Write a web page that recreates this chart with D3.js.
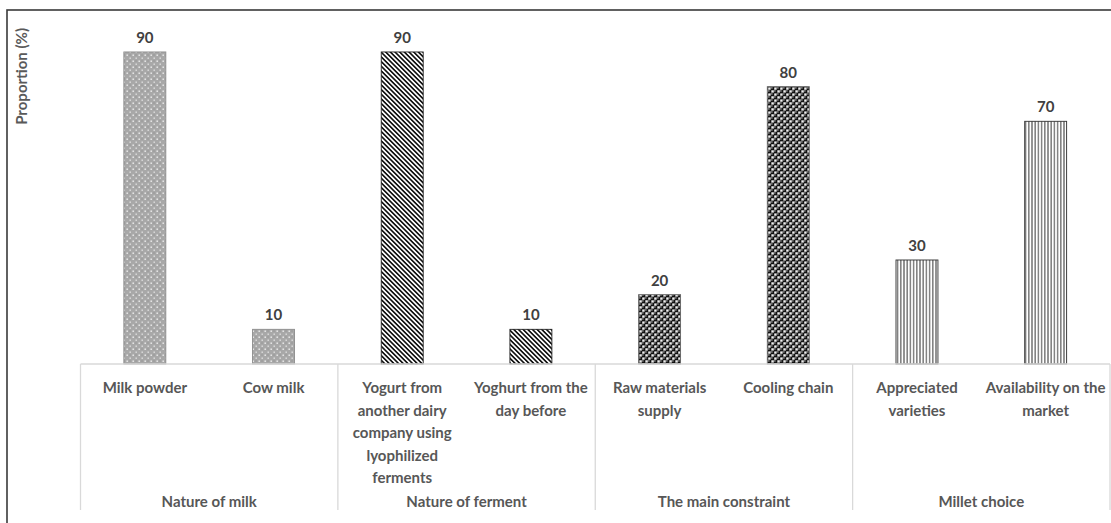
<!DOCTYPE html>
<html><head><meta charset="utf-8">
<script src="https://cdn.jsdelivr.net/npm/d3@7"></script>
<style>html,body{margin:0;padding:0;background:#fff;overflow:hidden}</style>
</head><body><svg id="c" width="1111" height="523"></svg>
<script>
// ---- data ----
const categories = [
  "Milk powder",
  "Cow milk",
  "Yogurt from\nanother dairy\ncompany using\nlyophilized\nferments",
  "Yoghurt from the\nday before",
  "Raw materials\nsupply",
  "Cooling chain",
  "Appreciated\nvarieties",
  "Availability on the\nmarket"
];
const groups = ["Nature of milk", "Nature of ferment", "The main constraint", "Millet choice"];
const groupOf = [0, 0, 1, 1, 2, 2, 3, 3];
const values = [90, 10, 90, 10, 20, 80, 30, 70];
const yTitle = "Proportion (%)";

// ---- layout ----
const W = 1111, H = 523;
const font = "Lato, 'Open Sans', sans-serif";
const svg = d3.select("#c");
const x0 = 80.5, x1 = 1110;
const x = d3.scaleBand().domain(d3.range(categories.length)).range([x0, x1]).padding(0);
const gx = d3.scaleBand().domain(d3.range(groups.length)).range([x0, x1]).padding(0);
const y = d3.scaleLinear().domain([0, 100]).range([364, 17.3]);
const barW = x.bandwidth() * 0.326;

// ---- patterns ----
const defs = svg.append("defs");
// gray dotted
let p = defs.append("pattern").attr("id", "pDots").attr("patternUnits", "userSpaceOnUse")
  .attr("width", 6).attr("height", 6);
p.append("rect").attr("width", 6).attr("height", 6).attr("fill", "#a8a8a8");
p.append("rect").attr("x", 0.5).attr("y", 0.5).attr("width", 1.4).attr("height", 1.4).attr("fill", "#f2f2f2");
p.append("rect").attr("x", 3.5).attr("y", 3.5).attr("width", 1.4).attr("height", 1.4).attr("fill", "#e0e0e0");
p.append("rect").attr("x", 3.5).attr("y", 0.5).attr("width", 1).attr("height", 1).attr("fill", "#888");
// diagonal stripes "\"
p = defs.append("pattern").attr("id", "pDiag").attr("patternUnits", "userSpaceOnUse")
  .attr("width", 3.3).attr("height", 10).attr("patternTransform", "rotate(-45)");
p.append("rect").attr("width", 3.3).attr("height", 10).attr("fill", "#fff");
p.append("line").attr("x1", 1.65).attr("x2", 1.65).attr("y1", 0).attr("y2", 10)
  .attr("stroke", "#111").attr("stroke-width", 1.7);
// sphere pattern
p = defs.append("pattern").attr("id", "pSphere").attr("patternUnits", "userSpaceOnUse")
  .attr("width", 6).attr("height", 6);
p.append("rect").attr("width", 6).attr("height", 6).attr("fill", "#8f8f8f");
[[1.5, 1.5], [4.5, 4.5]].forEach(([cx, cy]) => {
  p.append("circle").attr("cx", cx).attr("cy", cy).attr("r", 2).attr("fill", "#111");
  p.append("circle").attr("cx", cx - 0.6).attr("cy", cy - 0.6).attr("r", 0.6).attr("fill", "#fff");
});
[[4.5, 1.5], [1.5, 4.5]].forEach(([cx, cy]) => {
  p.append("circle").attr("cx", cx).attr("cy", cy).attr("r", 1.1).attr("fill", "#eee");
});
// vertical lines
p = defs.append("pattern").attr("id", "pVert").attr("patternUnits", "userSpaceOnUse")
  .attr("width", 3.2).attr("height", 10);
p.append("rect").attr("width", 3.2).attr("height", 10).attr("fill", "#fff");
p.append("line").attr("x1", 1.6).attr("x2", 1.6).attr("y1", 0).attr("y2", 10)
  .attr("stroke", "#222").attr("stroke-width", 0.9);

const groupFill = ["url(#pDots)", "url(#pDiag)", "url(#pSphere)", "url(#pVert)"];
const groupStroke = ["#8c8c8c", "#222", "#666", "#333"];

// ---- frame ----
svg.append("rect").attr("x", 7).attr("y", 10).attr("width", 1300).attr("height", 700)
  .attr("fill", "none").attr("stroke", "#3a3a3a").attr("stroke-width", 1.6);

// ---- y title ----
svg.append("text")
  .attr("transform", `translate(21,28) rotate(-90)`)
  .attr("text-anchor", "end").attr("dominant-baseline", "central")
  .attr("font-family", font).attr("font-weight", 700).attr("font-size", 15)
  .attr("fill", "#595959").text(yTitle);

// ---- bars ----
const idx = d3.range(values.length);
svg.append("g").selectAll("rect").data(idx).join("rect")
  .attr("x", i => x(i) + (x.bandwidth() - barW) / 2)
  .attr("y", i => y(values[i]))
  .attr("width", barW)
  .attr("height", i => y(0) - y(values[i]))
  .attr("fill", i => groupFill[groupOf[i]])
  .attr("stroke", i => groupStroke[groupOf[i]])
  .attr("stroke-width", 0.9);

// value labels
svg.append("g").selectAll("text").data(idx).join("text")
  .attr("x", i => x(i) + x.bandwidth() / 2)
  .attr("y", i => y(values[i]) - 15)
  .attr("text-anchor", "middle").attr("dominant-baseline", "central")
  .attr("font-family", font).attr("font-weight", 700).attr("font-size", 15)
  .attr("fill", "#404040").text(i => values[i]);

// ---- category axis ----
const ax = svg.append("g");
ax.append("line").attr("x1", x0).attr("x2", x1).attr("y1", y(0)).attr("y2", y(0))
  .attr("stroke", "#d9d9d9").attr("stroke-width", 1.3);
const bounds = d3.range(groups.length + 1).map(g => g < groups.length ? gx(g) : x1);
ax.selectAll("line.div").data(bounds).join("line").attr("class", "div")
  .attr("x1", d => d).attr("x2", d => d).attr("y1", y(0)).attr("y2", 510)
  .attr("stroke", "#d9d9d9").attr("stroke-width", 1.3);

const catG = ax.selectAll("text.cat").data(idx).join("text").attr("class", "cat")
  .attr("text-anchor", "middle")
  .attr("font-family", font).attr("font-weight", 700).attr("font-size", 15)
  .attr("fill", "#575757");
catG.each(function (i) {
  const t = d3.select(this);
  categories[i].split("\n").forEach((ln, k) => {
    t.append("tspan").attr("x", x(i) + x.bandwidth() / 2).attr("y", 387 + k * 22.5)
      .attr("dominant-baseline", "central").text(ln);
  });
});

ax.selectAll("text.grp").data(d3.range(groups.length)).join("text").attr("class", "grp")
  .attr("x", g => gx(g) + gx.bandwidth() / 2).attr("y", 501)
  .attr("text-anchor", "middle").attr("dominant-baseline", "central")
  .attr("font-family", font).attr("font-weight", 700).attr("font-size", 15)
  .attr("fill", "#575757").text(g => groups[g]);
</script>
</body></html>
